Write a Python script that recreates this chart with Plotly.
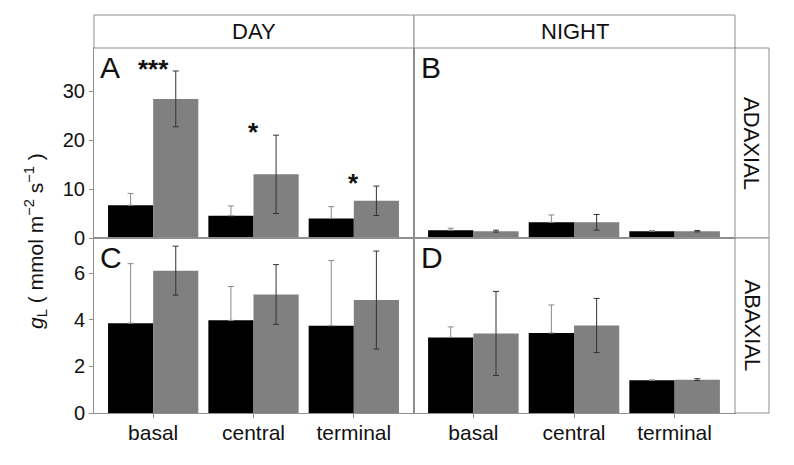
import plotly.graph_objects as go

W, H = 794, 465

positions = ["basal", "central", "terminal"]

# Panel A: DAY / ADAXIAL
A_black = [6.7, 4.55, 4.0]
A_black_err = [2.4, 2.0, 2.4]
A_gray = [28.4, 13.0, 7.6]
A_gray_err = [5.7, 8.0, 3.0]
# Panel B: NIGHT / ADAXIAL
B_black = [1.6, 3.2, 1.4]
B_black_err = [0.4, 1.5, 0.1]
B_gray = [1.4, 3.2, 1.4]
B_gray_err = [0.2, 1.6, 0.15]
# Panel C: DAY / ABAXIAL
C_black = [3.85, 3.97, 3.74]
C_black_err = [2.55, 1.45, 2.8]
C_gray = [6.1, 5.08, 4.84]
C_gray_err = [1.05, 1.28, 2.1]
# Panel D: NIGHT / ABAXIAL
D_black = [3.24, 3.43, 1.4]
D_black_err = [0.45, 1.2, 0.02]
D_gray = [3.41, 3.75, 1.43]
D_gray_err = [1.8, 1.16, 0.04]

sig_labels = ["***", "*", "*"]
sig_y = [35.9, 23.1, 12.7]

top_ticks = [0, 10, 20, 30]
bottom_ticks = [0, 2, 4, 6]

FONT = "Arial, Liberation Sans, sans-serif"
LINE = "#8f8f8f"


def px(x):
    return x / W


def py(y):
    return 1 - y / H


xL, xM, xR, xS = 94, 414, 735, 769
yT, yS, yMid, yB = 15, 48, 238, 413

fig = go.Figure()

panels = [
    ("x", "y", A_black, A_black_err, A_gray, A_gray_err),
    ("x2", "y2", B_black, B_black_err, B_gray, B_gray_err),
    ("x3", "y3", C_black, C_black_err, C_gray, C_gray_err),
    ("x4", "y4", D_black, D_black_err, D_gray, D_gray_err),
]
for xa, ya, bk, bke, gr, gre in panels:
    fig.add_trace(go.Bar(
        x=positions, y=bk, xaxis=xa, yaxis=ya, marker=dict(color="#000000", line=dict(width=0)),
        error_y=dict(type="data", symmetric=False, array=bke, arrayminus=[0] * len(bke),
                     color="#8a8a8a", thickness=1, width=3),
        showlegend=False, hoverinfo="skip"))
    fig.add_trace(go.Bar(
        x=positions, y=gr, xaxis=xa, yaxis=ya, marker=dict(color="#808080", line=dict(width=0)),
        error_y=dict(type="data", array=gre, color="#333333", thickness=1, width=3),
        showlegend=False, hoverinfo="skip"))

xr = [-0.59, 2.6]
common_x = dict(type="category", categoryorder="array", categoryarray=positions, range=xr,
                showline=True, mirror=True, linecolor=LINE, linewidth=1, showgrid=False,
                zeroline=False, automargin=False, tickfont=dict(family=FONT, size=21, color="#111"))
common_y = dict(showline=True, mirror=True, linecolor=LINE, linewidth=1, showgrid=False,
                zeroline=False, automargin=False, tickfont=dict(family=FONT, size=20, color="#111"),
                ticklen=4, tickcolor=LINE)

fig.update_layout(
    template="none",
    width=W, height=H, margin=dict(l=0, r=0, t=0, b=0, pad=0), autosize=False,
    paper_bgcolor="white", plot_bgcolor="white",
    barmode="group", bargap=0.1, bargroupgap=0,
    showlegend=False,
    xaxis=dict(domain=[px(xL), px(xM)], anchor="y", showticklabels=False, ticks="", **common_x),
    xaxis2=dict(domain=[px(xM), px(xR)], anchor="y2", showticklabels=False, ticks="", **common_x),
    xaxis3=dict(domain=[px(xL), px(xM)], anchor="y3", ticks="outside", ticklen=4, tickcolor=LINE,
                ticklabelstandoff=-3, **common_x),
    xaxis4=dict(domain=[px(xM), px(xR)], anchor="y4", ticks="outside", ticklen=4, tickcolor=LINE,
                ticklabelstandoff=-3, **common_x),
    yaxis=dict(domain=[py(yMid), py(yS)], anchor="x", range=[0, 38.8], tickvals=top_ticks,
               ticks="outside", **common_y),
    yaxis2=dict(domain=[py(yMid), py(yS)], anchor="x2", range=[0, 38.8], showticklabels=False,
                ticks="", **common_y),
    yaxis3=dict(domain=[py(yB), py(yMid)], anchor="x3", range=[0, 7.5], tickvals=bottom_ticks,
                ticks="outside", **common_y),
    yaxis4=dict(domain=[py(yB), py(yMid)], anchor="x4", range=[0, 7.5], showticklabels=False,
                ticks="", **common_y),
)

# strips
shapes = [
    dict(type="rect", xref="paper", yref="paper", x0=px(xL), x1=px(xM), y0=py(yS), y1=py(yT),
         line=dict(color=LINE, width=1), fillcolor="white"),
    dict(type="rect", xref="paper", yref="paper", x0=px(xM), x1=px(xR), y0=py(yS), y1=py(yT),
         line=dict(color=LINE, width=1), fillcolor="white"),
    dict(type="rect", xref="paper", yref="paper", x0=px(xR), x1=px(xS), y0=py(yMid), y1=py(yS),
         line=dict(color=LINE, width=1), fillcolor="white"),
    dict(type="rect", xref="paper", yref="paper", x0=px(xR), x1=px(xS), y0=py(yB), y1=py(yMid),
         line=dict(color=LINE, width=1), fillcolor="white"),
]
fig.update_layout(shapes=shapes)

C = dict(xanchor="center", yanchor="middle", showarrow=False)
ann = []
ann.append(dict(text="DAY", xref="paper", yref="paper", x=px((xL + xM) / 2), y=py((yT + yS) / 2),
                font=dict(family=FONT, size=22, color="#111"), **C))
ann.append(dict(text="NIGHT", xref="paper", yref="paper", x=px((xM + xR) / 2), y=py((yT + yS) / 2),
                font=dict(family=FONT, size=22, color="#111"), **C))
ann.append(dict(text="ADAXIAL", xref="paper", yref="paper", x=px((xR + xS) / 2), y=py((yS + yMid) / 2),
                textangle=90, font=dict(family=FONT, size=22, color="#111"), **C))
ann.append(dict(text="ABAXIAL", xref="paper", yref="paper", x=px((xR + xS) / 2), y=py((yMid + yB) / 2),
                textangle=90, font=dict(family=FONT, size=22, color="#111"), **C))

for letter, xx, yy in [("A", xL + 4, yS + 1), ("B", xM + 5, yS + 1), ("C", xL + 4, yMid + 1), ("D", xM + 5, yMid + 1)]:
    ann.append(dict(text=letter, xref="paper", yref="paper", x=px(xx), y=py(yy), xanchor="left",
                    yanchor="top", showarrow=False, font=dict(family=FONT, size=30, color="#111")))

for cat, lab, yv in zip(positions, sig_labels, sig_y):
    ann.append(dict(text="<b>" + lab + "</b>", xref="x", yref="y", x=cat, y=yv, yshift=-7,
                    font=dict(family=FONT, size=26, color="#111"), **C))

ann.append(dict(text="<i>g</i><sub>L</sub> ( mmol m<sup>\u22122</sup> s<sup>\u22121</sup> )",
                xref="paper", yref="paper", x=px(35), y=py(241), textangle=-90,
                font=dict(family=FONT, size=21, color="#111"), **C))
fig.update_layout(annotations=ann)

fig.write_html("out.html", config={"displayModeBar": False},
               post_script="document.body.style.margin='0';")
